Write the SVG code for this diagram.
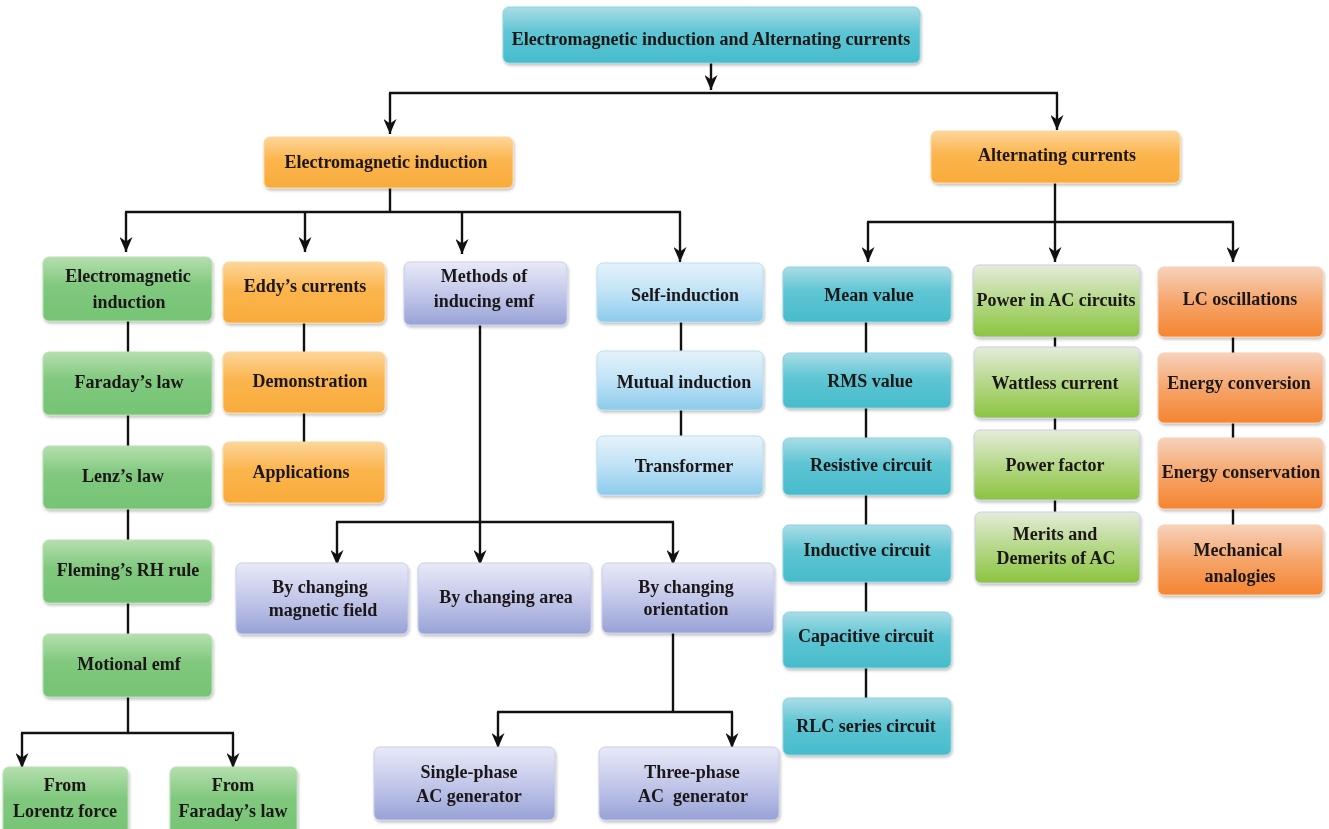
<svg xmlns="http://www.w3.org/2000/svg" width="1329" height="829" viewBox="0 0 1329 829">
  <style>
    .box { stroke-width: 1; }
    .t { font-family: "Liberation Serif", "Times New Roman", serif; font-weight: bold; font-size: 18px; fill: #1a1718; text-anchor: middle; }
    .pre { white-space: pre; }
    .ln { fill: none; stroke: #111; stroke-width: 2.4; }
    .ar { fill: none; stroke: #111; stroke-width: 2.4; marker-end: url(#head); }
    .cyan { fill: url(#gCyan); stroke: #8fd3df; }
    .orange { fill: url(#gOrange); stroke: #fcd9a0; }
    .green { fill: url(#gGreen); stroke: #b9e0b5; }
    .lav { fill: url(#gLav); stroke: #c9cdee; }
    .sky { fill: url(#gSky); stroke: #b9ddf3; }
    .lime { fill: url(#gLime); stroke: #c9cfe9; }
    .coral { fill: url(#gCoral); stroke: #f8cfb0; }
  </style>
  <defs>
    <marker id="head" markerUnits="userSpaceOnUse" markerWidth="15" markerHeight="13" refX="15" refY="6.5" orient="auto">
      <path d="M0,0 L15,6.5 L0,13 L4.5,6.5 Z" fill="#111"/>
    </marker>
    <filter id="shadow" x="-10%" y="-10%" width="120%" height="130%">
      <feDropShadow dx="1" dy="2" stdDeviation="1.5" flood-color="#000" flood-opacity="0.25"/>
    </filter>
    <linearGradient id="gCyan" x1="0" y1="0" x2="0" y2="1">
      <stop offset="0" stop-color="#a9dde7"/>
      <stop offset="0.45" stop-color="#5ec5d3"/>
      <stop offset="1" stop-color="#47bccc"/>
    </linearGradient>
    <linearGradient id="gOrange" x1="0" y1="0" x2="0" y2="1">
      <stop offset="0" stop-color="#fdd69a"/>
      <stop offset="0.45" stop-color="#fbb54d"/>
      <stop offset="1" stop-color="#f9ab3c"/>
    </linearGradient>
    <linearGradient id="gGreen" x1="0" y1="0" x2="0" y2="1">
      <stop offset="0" stop-color="#b5dfae"/>
      <stop offset="0.45" stop-color="#80c87e"/>
      <stop offset="1" stop-color="#76c475"/>
    </linearGradient>
    <linearGradient id="gLav" x1="0" y1="0" x2="0" y2="1">
      <stop offset="0" stop-color="#e8eaf7"/>
      <stop offset="0.5" stop-color="#c3c8ea"/>
      <stop offset="1" stop-color="#98a2d6"/>
    </linearGradient>
    <linearGradient id="gSky" x1="0" y1="0" x2="0" y2="1">
      <stop offset="0" stop-color="#e6f3fb"/>
      <stop offset="0.5" stop-color="#bfe2f6"/>
      <stop offset="1" stop-color="#8ccbec"/>
    </linearGradient>
    <linearGradient id="gLime" x1="0" y1="0" x2="0" y2="1">
      <stop offset="0" stop-color="#e5ecdb"/>
      <stop offset="0.5" stop-color="#b5d888"/>
      <stop offset="1" stop-color="#8cc43f"/>
    </linearGradient>
    <linearGradient id="gCoral" x1="0" y1="0" x2="0" y2="1">
      <stop offset="0" stop-color="#f6d2bb"/>
      <stop offset="0.5" stop-color="#f6a56b"/>
      <stop offset="1" stop-color="#f5842f"/>
    </linearGradient>
  </defs>

  <rect width="1329" height="829" fill="#ffffff"/>

  <!-- connectors -->
  <g id="connectors">
    <!-- root split -->
    <path class="ar" d="M711,63 V90"/>
    <path class="ln" d="M389,93 H1058"/>
    <path class="ar" d="M390,93 V134"/>
    <path class="ar" d="M1057,93 V130"/>
    <!-- electromagnetic induction split -->
    <path class="ln" d="M390,188 V212"/>
    <path class="ln" d="M125,212 H681"/>
    <path class="ar" d="M126,212 V252"/>
    <path class="ar" d="M305,212 V252"/>
    <path class="ar" d="M462,212 V254"/>
    <path class="ar" d="M680,212 V262"/>
    <!-- alternating currents split -->
    <path class="ar" d="M1055,183 V262"/>
    <path class="ln" d="M867,222 H1234"/>
    <path class="ar" d="M868,222 V262"/>
    <path class="ar" d="M1233,222 V262"/>
    <!-- column 1 chain -->
    <path class="ln" d="M128,321 V352 M128,415 V446 M128,509 V540 M128,603 V634"/>
    <path class="ln" d="M128,697 V733"/>
    <path class="ln" d="M21,733 H234"/>
    <path class="ar" d="M22,733 V768"/>
    <path class="ar" d="M233,733 V768"/>
    <!-- eddy currents chain -->
    <path class="ln" d="M304,323 V352 M304,413 V442"/>
    <!-- methods of inducing emf -->
    <path class="ar" d="M480,325 V565"/>
    <path class="ln" d="M336,522 H674"/>
    <path class="ar" d="M337,522 V565"/>
    <path class="ar" d="M673,522 V565"/>
    <path class="ln" d="M673,633 V712"/>
    <path class="ln" d="M497,712 H733"/>
    <path class="ar" d="M498,712 V748"/>
    <path class="ar" d="M732,712 V748"/>
    <!-- self induction chain -->
    <path class="ln" d="M681,322 V351 M681,410 V436"/>
    <!-- column 5 chain -->
    <path class="ln" d="M866,322 V353 M866,408 V438 M866,495 V525 M866,582 V612 M866,668 V698"/>
    <!-- column 6 chain -->
    <path class="ln" d="M1055,337 V347 M1055,418 V430 M1055,500 V512"/>
    <!-- column 7 chain -->
    <path class="ln" d="M1233,337 V353 M1233,423 V438 M1233,509 V525"/>
  </g>

  <!-- root -->
  <g id="n-root" filter="url(#shadow)">
    <rect class="box cyan" x="503" y="7" width="417" height="56" rx="6"/>
    <text class="t" x="711" y="45">Electromagnetic induction and Alternating currents</text>
  </g>

  <!-- second level -->
  <g id="n-emi" filter="url(#shadow)">
    <rect class="box orange" x="264" y="137" width="249" height="51" rx="6"/>
    <text class="t" x="386" y="168">Electromagnetic induction</text>
  </g>
  <g id="n-ac" filter="url(#shadow)">
    <rect class="box orange" x="931" y="131" width="249" height="52" rx="6"/>
    <text class="t" x="1057" y="161">Alternating currents</text>
  </g>

  <!-- column 1 -->
  <g id="n-emi2" filter="url(#shadow)">
    <rect class="box green" x="43" y="257" width="169" height="64" rx="6"/>
    <text class="t" x="128" y="282">Electromagnetic</text>
    <text class="t" x="129" y="308">induction</text>
  </g>
  <g id="n-faraday" filter="url(#shadow)">
    <rect class="box green" x="43" y="352" width="169" height="63" rx="6"/>
    <text class="t" x="129" y="388">Faraday’s law</text>
  </g>
  <g id="n-lenz" filter="url(#shadow)">
    <rect class="box green" x="43" y="446" width="169" height="63" rx="6"/>
    <text class="t" x="123" y="482">Lenz’s law</text>
  </g>
  <g id="n-fleming" filter="url(#shadow)">
    <rect class="box green" x="43" y="540" width="169" height="63" rx="6"/>
    <text class="t" x="128" y="576">Fleming’s RH rule</text>
  </g>
  <g id="n-motional" filter="url(#shadow)">
    <rect class="box green" x="43" y="634" width="169" height="63" rx="6"/>
    <text class="t" x="129" y="670">Motional emf</text>
  </g>
  <g id="n-lorentz" filter="url(#shadow)">
    <rect class="box green" x="3" y="767" width="125" height="70" rx="6"/>
    <text class="t" x="65" y="791">From</text>
    <text class="t" x="65" y="817">Lorentz force</text>
  </g>
  <g id="n-fromfaraday" filter="url(#shadow)">
    <rect class="box green" x="170" y="767" width="127" height="70" rx="6"/>
    <text class="t" x="233" y="791">From</text>
    <text class="t" x="233" y="817">Faraday’s law</text>
  </g>

  <!-- column 2 -->
  <g id="n-eddy" filter="url(#shadow)">
    <rect class="box orange" x="223" y="262" width="162" height="61" rx="6"/>
    <text class="t" x="305" y="292">Eddy’s currents</text>
  </g>
  <g id="n-demo" filter="url(#shadow)">
    <rect class="box orange" x="223" y="352" width="162" height="61" rx="6"/>
    <text class="t" x="310" y="387">Demonstration</text>
  </g>
  <g id="n-apps" filter="url(#shadow)">
    <rect class="box orange" x="223" y="442" width="162" height="61" rx="6"/>
    <text class="t" x="301" y="478">Applications</text>
  </g>

  <!-- column 3 -->
  <g id="n-methods" filter="url(#shadow)">
    <rect class="box lav" x="404" y="262" width="163" height="63" rx="6"/>
    <text class="t" x="484" y="282">Methods of</text>
    <text class="t" x="484" y="307">inducing emf</text>
  </g>
  <g id="n-bfield" filter="url(#shadow)">
    <rect class="box lav" x="236" y="563" width="172" height="71" rx="6"/>
    <text class="t" x="320" y="593">By changing</text>
    <text class="t" x="323" y="616">magnetic field</text>
  </g>
  <g id="n-barea" filter="url(#shadow)">
    <rect class="box lav" x="418" y="563" width="173" height="71" rx="6"/>
    <text class="t" x="506" y="603">By changing area</text>
  </g>
  <g id="n-borient" filter="url(#shadow)">
    <rect class="box lav" x="602" y="563" width="172" height="70" rx="6"/>
    <text class="t" x="686" y="593">By changing</text>
    <text class="t" x="686" y="615">orientation</text>
  </g>
  <g id="n-single" filter="url(#shadow)">
    <rect class="box lav" x="374" y="747" width="181" height="73" rx="6"/>
    <text class="t" x="469" y="778">Single-phase</text>
    <text class="t" x="469" y="802">AC generator</text>
  </g>
  <g id="n-three" filter="url(#shadow)">
    <rect class="box lav" x="599" y="747" width="180" height="73" rx="6"/>
    <text class="t" x="692" y="778">Three-phase</text>
    <text class="t pre" x="693" y="802">AC  generator</text>
  </g>

  <!-- column 4 -->
  <g id="n-self" filter="url(#shadow)">
    <rect class="box sky" x="597" y="263" width="166" height="59" rx="6"/>
    <text class="t" x="685" y="301">Self-induction</text>
  </g>
  <g id="n-mutual" filter="url(#shadow)">
    <rect class="box sky" x="597" y="351" width="166" height="59" rx="6"/>
    <text class="t" x="684" y="388">Mutual induction</text>
  </g>
  <g id="n-transformer" filter="url(#shadow)">
    <rect class="box sky" x="597" y="436" width="166" height="59" rx="6"/>
    <text class="t" x="684" y="472">Transformer</text>
  </g>

  <!-- column 5 -->
  <g id="n-mean" filter="url(#shadow)">
    <rect class="box cyan" x="783" y="267" width="168" height="55" rx="6"/>
    <text class="t" x="869" y="301">Mean value</text>
  </g>
  <g id="n-rms" filter="url(#shadow)">
    <rect class="box cyan" x="783" y="353" width="168" height="55" rx="6"/>
    <text class="t" x="870" y="387">RMS value</text>
  </g>
  <g id="n-resistive" filter="url(#shadow)">
    <rect class="box cyan" x="783" y="438" width="168" height="57" rx="6"/>
    <text class="t" x="871" y="471">Resistive circuit</text>
  </g>
  <g id="n-inductive" filter="url(#shadow)">
    <rect class="box cyan" x="783" y="525" width="168" height="57" rx="6"/>
    <text class="t" x="867" y="556">Inductive circuit</text>
  </g>
  <g id="n-capacitive" filter="url(#shadow)">
    <rect class="box cyan" x="783" y="612" width="168" height="56" rx="6"/>
    <text class="t" x="866" y="642">Capacitive circuit</text>
  </g>
  <g id="n-rlc" filter="url(#shadow)">
    <rect class="box cyan" x="783" y="698" width="168" height="57" rx="6"/>
    <text class="t" x="866" y="732">RLC series circuit</text>
  </g>

  <!-- column 6 -->
  <g id="n-power" filter="url(#shadow)">
    <rect class="box lime" x="973" y="265" width="167" height="72" rx="6"/>
    <text class="t" x="1056" y="306">Power in AC circuits</text>
  </g>
  <g id="n-wattless" filter="url(#shadow)">
    <rect class="box lime" x="974" y="347" width="166" height="71" rx="6"/>
    <text class="t" x="1055" y="389">Wattless current</text>
  </g>
  <g id="n-pf" filter="url(#shadow)">
    <rect class="box lime" x="974" y="430" width="166" height="70" rx="6"/>
    <text class="t" x="1055" y="471">Power factor</text>
  </g>
  <g id="n-merits" filter="url(#shadow)">
    <rect class="box lime" x="975" y="512" width="165" height="71" rx="6"/>
    <text class="t" x="1055" y="540">Merits and</text>
    <text class="t" x="1056" y="564">Demerits of AC</text>
  </g>

  <!-- column 7 -->
  <g id="n-lc" filter="url(#shadow)">
    <rect class="box coral" x="1158" y="267" width="165" height="70" rx="6"/>
    <text class="t" x="1240" y="305">LC oscillations</text>
  </g>
  <g id="n-conversion" filter="url(#shadow)">
    <rect class="box coral" x="1158" y="353" width="165" height="70" rx="6"/>
    <text class="t" x="1239" y="389">Energy conversion</text>
  </g>
  <g id="n-conservation" filter="url(#shadow)">
    <rect class="box coral" x="1158" y="438" width="165" height="71" rx="6"/>
    <text class="t" x="1241" y="478">Energy conservation</text>
  </g>
  <g id="n-mech" filter="url(#shadow)">
    <rect class="box coral" x="1158" y="525" width="165" height="70" rx="6"/>
    <text class="t" x="1238" y="556">Mechanical</text>
    <text class="t" x="1240" y="582">analogies</text>
  </g>
</svg>
